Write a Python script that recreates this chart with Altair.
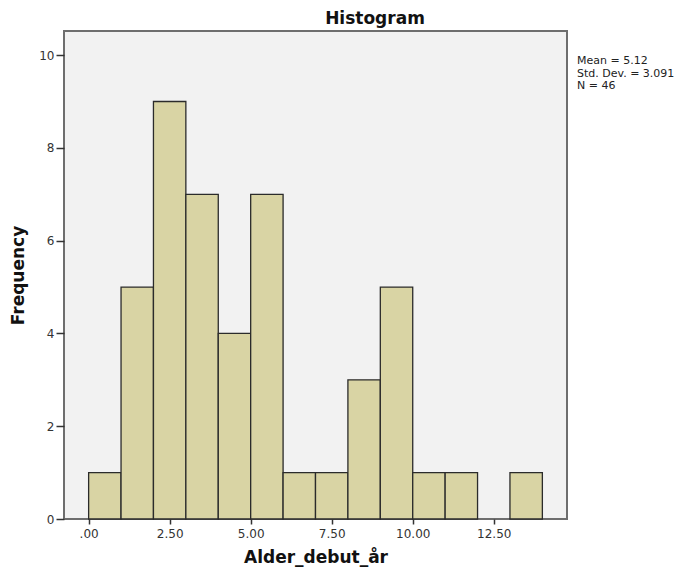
import altair as alt
import pandas as pd

bin_start = [0, 1, 2, 3, 4, 5, 6, 7, 8, 9, 10, 11, 12, 13]
bin_end = [1, 2, 3, 4, 5, 6, 7, 8, 9, 10, 11, 12, 13, 14]
counts = [1, 5, 9, 7, 4, 7, 1, 1, 3, 5, 1, 1, 0, 1]
stats_lines = ["Mean = 5.12", "Std. Dev. = 3.091", "N = 46"]
x_ticks = [0, 2.5, 5, 7.5, 10, 12.5]
y_ticks = [0, 2, 4, 6, 8, 10]

df = pd.DataFrame({"start": bin_start, "end": bin_end, "count": counts})
df = df[df["count"] > 0]

FONT = "DejaVu Sans"
W, H = 503, 488

xscale = alt.Scale(domain=[-0.76, 14.76], nice=False, zero=False)
yscale = alt.Scale(domain=[0, 10.52], nice=False)

bars = alt.Chart(df).mark_rect(
    fill="#d9d4a4", stroke="#2b2b2b", strokeWidth=1.3
).encode(
    x=alt.X("start:Q", scale=xscale,
            axis=alt.Axis(values=x_ticks, title="Alder_debut_år",
                          labelExpr="datum.value == 0 ? '.00' : format(datum.value, '.2f')",
                          tickSize=5, tickColor="#333333", tickWidth=1.5,
                          labelFontSize=12, labelColor="#333333", labelPadding=4,
                          labelFont=FONT, titleFont=FONT, titleFontSize=17,
                          titleFontWeight="bold", titleColor="#111111",
                          titlePadding=10, domain=False, grid=False)),
    x2="end:Q",
    y=alt.Y("count:Q", scale=yscale,
            axis=alt.Axis(values=y_ticks, title="Frequency",
                          tickSize=8, tickColor="#333333", tickWidth=1.5,
                          labelFontSize=12, labelColor="#333333", labelPadding=2,
                          labelFont=FONT, titleFont=FONT, titleFontSize=17,
                          titleFontWeight="bold", titleColor="#111111",
                          titlePadding=11, domain=False, grid=False)),
)

stats = alt.Chart(pd.DataFrame({"t": stats_lines, "i": list(range(len(stats_lines)))})).mark_text(
    align="left", baseline="middle", font=FONT, fontSize=11, color="#222222"
).encode(
    text="t:N",
    x=alt.value(W + 10),
    y=alt.Y("i:Q", scale=alt.Scale(domain=[0, 2], range=[30, 55]), axis=None),
)

title = alt.Chart(pd.DataFrame({"t": ["Histogram"]})).mark_text(
    align="center", baseline="middle", font=FONT, fontSize=17, fontWeight="bold", color="#111111"
).encode(
    text="t:N",
    x=alt.value(311),
    y=alt.value(-12),
)

chart = alt.layer(bars, stats, title).resolve_scale(y="independent").properties(
    width=W, height=H,
    autosize=alt.AutoSizeParams(type="none"),
    padding={"left": 56, "top": 23, "right": 116, "bottom": 50},
).configure(background="white").configure_view(
    fill="#f2f2f2", stroke="#6e6e6e", strokeWidth=2
)

chart.save("out.html", embed_options={"renderer": "svg", "actions": False})
